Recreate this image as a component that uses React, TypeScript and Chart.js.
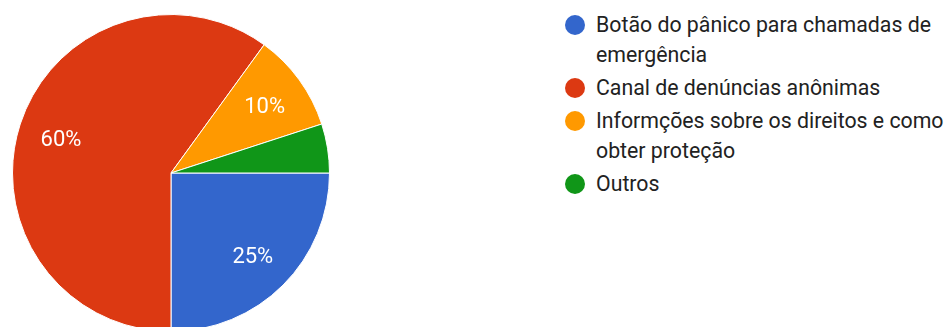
import React, { useEffect, useRef } from "react";
import { Chart, registerables } from "chart.js";

Chart.register(...registerables);

const categories = [
  "Botão do pânico para chamadas de emergência",
  "Canal de denúncias anônimas",
  "Informções sobre os direitos e como obter proteção",
  "Outros",
];
const values = [25, 60, 10, 5];
const colors = ["#3366cc", "#dc3912", "#ff9900", "#109618"];

const sliceLabels = {
  id: "sliceLabels",
  afterDatasetsDraw(chart: any) {
    const meta = chart.getDatasetMeta(0);
    const data = chart.data.datasets[0].data as number[];
    const total = data.reduce((a, b) => a + b, 0);
    const ctx = chart.ctx;
    ctx.save();
    ctx.fillStyle = "#ffffff";
    ctx.font = "22px Roboto";
    ctx.textAlign = "center";
    ctx.textBaseline = "alphabetic";
    meta.data.forEach((arc: any, i: number) => {
      const pct = (data[i] / total) * 100;
      if (pct < 8) return;
      const p = arc.getProps(["x", "y", "startAngle", "endAngle", "outerRadius"], true);
      const mid = (p.startAngle + p.endAngle) / 2;
      const r = p.outerRadius * 0.73;
      ctx.fillText(
        Math.round(pct) + "%",
        p.x + Math.cos(mid) * r,
        p.y + Math.sin(mid) * r + 8.5
      );
    });
    ctx.restore();
  },
};

export default function App() {
  const ref = useRef<HTMLCanvasElement | null>(null);
  useEffect(() => {
    if (!ref.current) return;
    const chart = new Chart(ref.current, {
      type: "pie",
      data: {
        labels: categories,
        datasets: [
          {
            data: values,
            backgroundColor: colors,
            borderColor: "#ffffff",
            borderWidth: 1,
          },
        ],
      },
      options: {
        responsive: false,
        animation: false,
        rotation: 90,
        layout: { padding: { left: 12, right: 12, top: 14, bottom: 14 } },
        plugins: { legend: { display: false }, tooltip: { enabled: false } },
      },
      plugins: [sliceLabels],
    });
    return () => chart.destroy();
  }, []);

  return (
    <div
      style={{
        position: "fixed",
        left: 0,
        top: 0,
        width: 952,
        height: 327,
        overflow: "hidden",
        background: "#fff",
      }}
    >
      <canvas ref={ref} width={342} height={346} style={{ position: "absolute", left: 0, top: 0 }} />
      <div
        style={{
          position: "absolute",
          left: 565,
          top: 10,
          width: 387,
          fontFamily: "Roboto, sans-serif",
          fontSize: 21.3,
          lineHeight: "30px",
          color: "#222222",
        }}
      >
        {categories.map((c, i) => (
          <div key={c} style={{ position: "relative", paddingLeft: 31, marginBottom: 3 }}>
            <span
              style={{
                position: "absolute",
                left: 0,
                top: 5,
                width: 20,
                height: 20,
                borderRadius: "50%",
                background: colors[i],
              }}
            />
            {c}
          </div>
        ))}
      </div>
    </div>
  );
}
